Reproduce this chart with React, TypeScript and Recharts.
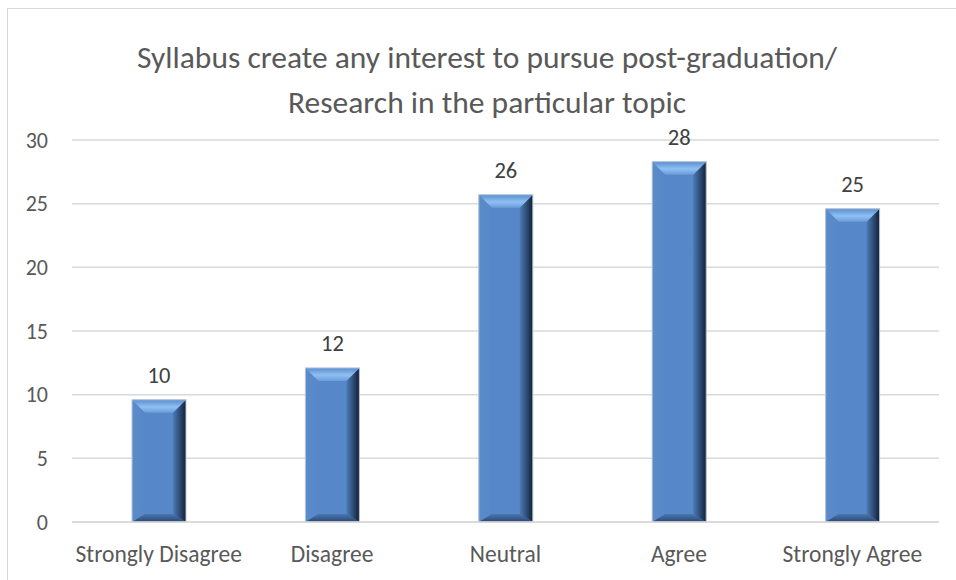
import React from 'react';
import { BarChart, Bar, XAxis, YAxis, CartesianGrid, LabelList } from 'recharts';

const categories = ['Strongly Disagree', 'Disagree', 'Neutral', 'Agree', 'Strongly Agree'];
const values = [9.6, 12.1, 25.7, 28.3, 24.6];
const yTicks = [0, 5, 10, 15, 20, 25, 30];
const titleLines = ['Syllabus create any interest to pursue post-graduation/', 'Research in the particular topic'];

const data = categories.map((c, i) => ({ name: c, value: values[i] }));

const FONT = "Carlito, Calibri, Lato, 'Noto Sans', sans-serif";

const BevelBar = (props: any) => {
  const { x, y, width: w, height: h, index } = props;
  if (!h || h <= 0) return null;
  const s = 13;
  const t = 13;
  const b = 8;
  const id = `bb${index}`;
  const top = `${x},${y} ${x + w},${y} ${x + w - s},${y + t} ${x + s},${y + t}`;
  const right = `${x + w},${y} ${x + w},${y + h} ${x + w - s},${y + h - b} ${x + w - s},${y + t}`;
  const left = `${x},${y} ${x + s},${y + t} ${x + s},${y + h - b} ${x},${y + h}`;
  const bottom = `${x},${y + h} ${x + w},${y + h} ${x + w - s},${y + h - b} ${x + s},${y + h - b}`;
  return (
    <g>
      <defs>
        <linearGradient id={`${id}t`} x1="0" y1="0" x2="0" y2="1">
          <stop offset="0%" stopColor="#5a8cd0" />
          <stop offset="55%" stopColor="#8fc0f2" />
          <stop offset="100%" stopColor="#6b9cda" />
        </linearGradient>
        <linearGradient id={`${id}r`} x1="0" y1="0" x2="1" y2="0">
          <stop offset="0%" stopColor="#4c7ab6" />
          <stop offset="55%" stopColor="#2d4a73" />
          <stop offset="100%" stopColor="#131f33" />
        </linearGradient>
        <linearGradient id={`${id}l`} x1="0" y1="0" x2="1" y2="0">
          <stop offset="0%" stopColor="#5b8bca" />
          <stop offset="100%" stopColor="#5687c8" />
        </linearGradient>
        <linearGradient id={`${id}b`} x1="0" y1="0" x2="0" y2="1">
          <stop offset="0%" stopColor="#4a77b2" />
          <stop offset="100%" stopColor="#2b4770" />
        </linearGradient>
      </defs>
      <rect x={x} y={y} width={w} height={h} fill="#5687c9" />
      <polygon points={left} fill={`url(#${id}l)`} />
      <polygon points={bottom} fill={`url(#${id}b)`} />
      <polygon points={right} fill={`url(#${id}r)`} />
      <polygon points={top} fill={`url(#${id}t)`} />
      <rect x={x} y={y} width={w} height={h} fill="none" stroke="#b9c6d8" strokeWidth={1} />
    </g>
  );
};

export default function App() {
  return (
    <div style={{ position: 'absolute', left: 0, top: 0, width: 956, height: 580, overflow: 'hidden', background: '#ffffff', fontFamily: FONT }}>
      <div style={{ position: 'absolute', left: 7, top: 8, width: 1000, height: 620, border: '1px solid #d9d9d9', boxSizing: 'border-box' }} />
      <div style={{ position: 'absolute', left: 0, top: 35, width: 974, textAlign: 'center', color: '#595959', fontSize: 31.5, lineHeight: '45px', fontFamily: FONT }}>
        {titleLines.map((l) => (
          <div key={l}>{l}</div>
        ))}
      </div>
      <div style={{ position: 'absolute', left: 0, top: 0 }}>
        <BarChart width={956} height={580} data={data} margin={{ top: 140, right: 17, left: 12, bottom: 18 }}>
          <CartesianGrid vertical={false} stroke="#d9d9d9" strokeWidth={1.5} />
          <XAxis
            dataKey="name"
            height={40}
            axisLine={{ stroke: '#d9d9d9', strokeWidth: 1.5 }}
            tickLine={false}
            tickSize={0}
            tickMargin={23}
            interval={0}
            tick={{ fill: '#595959', fontSize: 23.5, fontFamily: FONT }}
          />
          <YAxis
            width={60}
            domain={[0, 30]}
            ticks={yTicks}
            axisLine={false}
            tickLine={false}
            tickSize={0}
            tickMargin={24}
            tick={{ fill: '#595959', fontSize: 22, fontFamily: FONT }}
          />
          <Bar dataKey="value" barSize={54} shape={<BevelBar />} isAnimationActive={false}>
            <LabelList
              dataKey="value"
              position="top"
              offset={17}
              formatter={(v: any) => Math.round(Number(v))}
              style={{ fill: '#404040', fontSize: 22.5, fontFamily: FONT }}
            />
          </Bar>
        </BarChart>
      </div>
    </div>
  );
}
